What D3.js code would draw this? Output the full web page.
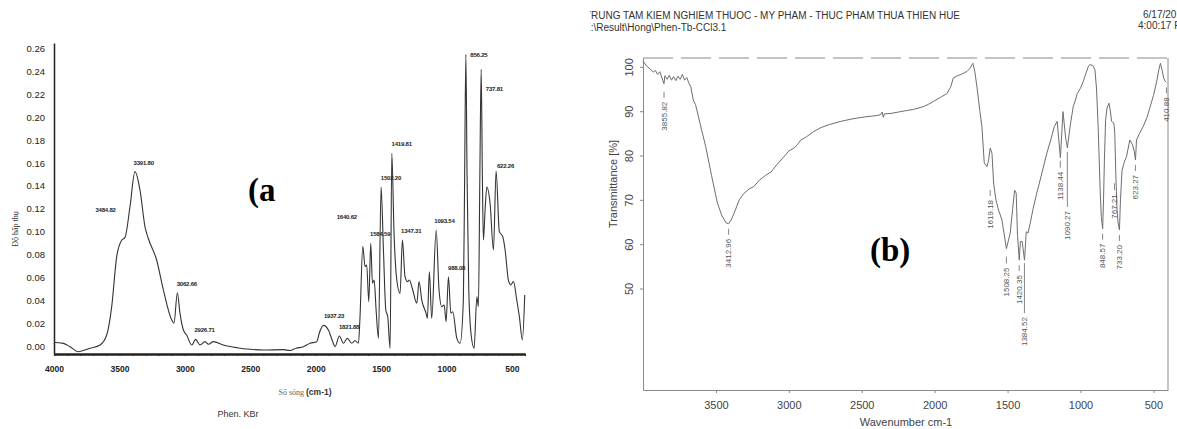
<!doctype html>
<html lang="vi">
<head>
	<meta charset="UTF-8">
	<title>IR spectra - Phen</title>
	<style>
		body {
			margin: 0;
			background: #fff;
		}

		svg {
			display: block;
			font-family: "Liberation Sans", Arial, sans-serif;
		}

		.axis-a path,
		.axis-a line {
			stroke: #222;
		}

		.axis-a text {
			fill: #222;
			font-family: "Liberation Sans", Arial, sans-serif;
		}

		.axis-b path,
		.axis-b line {
			stroke: #8a8a8a;
		}

		.axis-b text {
			fill: #444;
			font-family: "Liberation Sans", Arial, sans-serif;
			font-size: 11px;
		}

		.peak-a {
			font-size: 6px;
			font-weight: bold;
			fill: #222;
			letter-spacing: -0.2px;
		}

		.peak-b {
			font-size: 8px;
			fill: #555;
		}
	</style>
</head>
<body>
	<script src="https://cdnjs.cloudflare.com/ajax/libs/d3/7.8.5/d3.min.js"></script>
	<script>
		var w = 1177,
			h = 429;

		// ---- panel (a): absorbance, Phen. KBr
		var aWave = [4000, 3992, 3929, 3878, 3814, 3725, 3648, 3597, 3559, 3521, 3482, 3457, 3419, 3381, 3343, 3304, 3279, 3215, 3164, 3100,
			3083, 3057, 3037, 3011, 2986, 2947, 2917, 2884, 2846, 2820, 2782, 2706, 2600, 2502, 2400, 2247, 2196, 2150, 2094, 2043,
			1992, 1970, 1941, 1903, 1870, 1852, 1819, 1788, 1758, 1724, 1699, 1673, 1661, 1640, 1622, 1610, 1594, 1579, 1566, 1553,
			1538, 1520, 1500, 1482, 1464, 1449, 1431, 1418, 1401, 1380, 1355, 1337, 1317, 1299, 1284, 1258, 1227, 1210, 1189, 1156,
			1146, 1131, 1113, 1079, 1057, 1036, 1018, 1003, 985, 967, 952, 921, 896, 871, 862, 852, 843, 830, 812, 789,
			768, 756, 745, 735, 726, 718, 705, 692, 667, 641, 621, 596, 570, 552, 527, 509, 488, 463, 443, 420, 402];
		var aAbs = [0.002, 0.003, 0.0023, -0.0006, -0.005, -0.002, 0.0009, 0.0096, 0.0344, 0.078, 0.0927, 0.095, 0.122, 0.1525, 0.1365, 0.104, 0.094, 0.075, 0.049, 0.0227,
			0.0199, 0.0466, 0.0286, 0.014, 0.0096, 0.0009, 0.0058, 0.0009, 0.0038, 0.0015, 0.0038, 0.0009, -0.0015, -0.0029, -0.0035, -0.0032, -0.004, -0.002, -0.0006, 0.0024,
			0.0038, 0.012, 0.018, 0.014, 0.004, -0.0006, 0.0087, 0.0024, 0.0067, 0.0024, 0.0046, 0.0024, 0.0256, 0.0869, 0.0694, 0.0709, 0.0388, 0.0899, 0.0549, 0.0577,
			0.0315, 0.0067, 0.139, 0.084, 0.0315, 0.0256, -0.002, 0.1686, 0.0986, 0.0577, 0.046, 0.0927, 0.0606, 0.0563, 0.0577, 0.049, 0.0374, 0.0563, 0.0402, 0.0286,
			0.0242, 0.065, 0.0242, 0.1015, 0.049, 0.0344, 0.0359, 0.0213, 0.0606, 0.0286, 0.03, 0.0067, 0.0024, 0.0402, 0.14, 0.255, 0.15, 0.05, 0.01, -0.002,
			0.0431, 0.0344, 0.15, 0.242, 0.15, 0.0927, 0.119, 0.139, 0.1248, 0.084, 0.153, 0.1, 0.0956, 0.084, 0.0577, 0.0534, 0.0563, 0.0402, 0.0256, 0.0052, 0.0446];
		var aYTicks = [0, 0.02, 0.04, 0.06, 0.08, 0.10, 0.12, 0.14, 0.16, 0.18, 0.20, 0.22, 0.24, 0.26];
		var aXTicks = [4000, 3500, 3000, 2500, 2000, 1500, 1000, 500];
		var aPeakLabels = ['3484.82', '3391.80', '3062.66', '2926.71', '1937.23', '1821.88', '1640.62', '1584.59',
			'1502.20', '1419.81', '1347.31', '1093.54', '988.08', '856.25', '737.81', '622.26'];

		// ---- panel (b): transmittance, Phen-Tb-CCl3
		var bWave = [4000, 3975, 3950, 3930, 3915, 3900, 3885, 3870, 3856, 3850, 3835, 3820, 3805, 3790, 3775, 3760, 3745, 3730, 3715, 3700,
			3685, 3672, 3655, 3640, 3626, 3600, 3570, 3530, 3490, 3460, 3430, 3413, 3395, 3375, 3340, 3307, 3270, 3240, 3200, 3160,
			3122, 3080, 3040, 3000, 2960, 2940, 2918, 2880, 2830, 2780, 2720, 2644, 2560, 2480, 2400, 2371, 2360, 2352, 2345, 2300,
			2200, 2145, 2080, 2040, 2009, 1960, 1915, 1890, 1872, 1850, 1820, 1800, 1778, 1760, 1744, 1738, 1725, 1710, 1690, 1676,
			1660, 1641, 1630, 1619, 1607, 1596, 1580, 1562, 1539, 1508, 1482, 1465, 1452, 1441, 1432, 1420, 1412, 1400, 1384, 1372,
			1360, 1345, 1325, 1300, 1265, 1231, 1200, 1180, 1160, 1138, 1120, 1102, 1090, 1070, 1050, 1035, 1022, 1000, 981, 960,
			945, 935, 915, 901, 890, 879, 865, 857, 848, 842, 836, 828, 818, 805, 795, 787, 771, 765, 758, 750,
			743, 733, 726, 715, 700, 684, 662, 643, 632, 623, 616, 595, 571, 545, 525, 500, 480, 462, 452, 440,
			430, 420, 411];
		var bTrans = [101.3, 100.2, 99.5, 98.8, 99.2, 98.3, 98.9, 97.5, 96.2, 98, 97.2, 98.1, 97, 97.8, 96.9, 97.9, 97.2, 98.3, 97, 97.6,
			96.3, 95.5, 92.5, 91.5, 89.6, 86, 82, 75.5, 69.3, 66.5, 64.8, 64.6, 65.5, 67, 70, 71.5, 72.5, 73, 74.5, 75.5,
			76.3, 78, 79.5, 81, 81.8, 82.5, 83.5, 84.2, 85.4, 86.3, 87, 87.7, 88.3, 88.7, 89, 89.2, 89.8, 88.6, 89.4, 89.5,
			90.1, 90.4, 91, 91.6, 92.2, 93.1, 94, 95.5, 97.5, 97.9, 98.3, 98.6, 99, 99.6, 100.5, 100.8, 99, 95.5, 90, 86.5,
			78.3, 77.5, 79, 81.7, 80.5, 73.8, 70, 67.7, 65.5, 59, 62.5, 68, 72.2, 71.5, 62, 56.4, 60.6, 60.6, 56.4, 62.8,
			62.5, 64.7, 68, 71.5, 76, 80.5, 84, 86.5, 87.7, 79.5, 89.9, 84, 81.7, 86.9, 91, 92.5, 94, 95.2, 96.7, 98.8,
			100.2, 100.5, 100.3, 99.3, 95, 86.5, 72, 66, 63.5, 70, 79, 88, 90.7, 91.8, 90, 87.7, 87.3, 85, 76, 68,
			65, 63.2, 70, 76.7, 78.5, 79.8, 83.5, 82.4, 81, 79, 83.5, 85, 86.5, 88.5, 90.7, 93.5, 96.3, 99.5, 100.8, 99.2,
			97.5, 96.8, 96.5];
		var bYTicks = [50, 60, 70, 80, 90, 100];
		var bXTicks = [3500, 3000, 2500, 2000, 1500, 1000, 500];
		var bPeakLabels = ['3855.82', '3412.96', '1619.18', '1508.25', '1420.35', '1384.52', '1138.44', '1090.27',
			'848.57', '767.21', '733.20', '623.27', '410.88'];

		// label placement tweaks (layout only)
		var aLabelNudge = {
			'3484.82': [-26, -21],
			'1640.62': [-26, -21],
			'856.25': [5, 10],
			'737.81': [5, 29],
			'622.26': [1, 4]
		};
		var bLeader = {
			'3855.82': [8, 6],
			'1619.18': [30, 6],
			'1508.25': [8, 7],
			'1384.52': [3, 50],
			'1138.44': [3, 7],
			'1090.27': [4, 55],
			'767.21': [10, 7]
		};

		var svg = d3.select('body')
			.append('svg')
			.attr('width', w)
			.attr('height', h);

		var xA = d3.scaleLinear().domain([4000, 400]).range([54, 525]),
			yA = d3.scaleLinear().domain([-0.007, 0.265]).range([354, 43]),
			xB = d3.scaleLinear().domain([4000, 400]).range([643, 1168]),
			yB = d3.scaleLinear().domain([27.1, 102]).range([390, 58]);


		/**
		* extreme value of a series close to a wavenumber
		* @returns {number}
		*/
		var valueNear = function(wn, waves, vals, useMax, win) {
			var best = null;
			waves.forEach(function(d, i) {
				if (Math.abs(d - wn) <= win) {
					if (best === null || (useMax ? vals[i] > best : vals[i] < best)) {
						best = vals[i];
					}
				}
			});
			return best;
		};


		/**
		* panel (a)
		* @returns {undefined}
		*/
		var drawPanelA = function() {
			var g = svg.append('g').attr('class', 'axis-a');

			// minor ticks on the x axis
			g.append('g')
				.attr('transform', 'translate(0,354)')
				.call(d3.axisBottom(xA).tickValues(d3.range(4000, 399, -100)).tickSize(2).tickSizeOuter(0).tickFormat(''))
				.select('.domain').attr('stroke-width', 2);

			g.append('g')
				.attr('transform', 'translate(0,354)')
				.call(d3.axisBottom(xA).tickValues(aXTicks).tickSize(0).tickPadding(12).tickFormat(d3.format('d')))
				.call(function(sel) {
					sel.select('.domain').attr('stroke-width', 2);
					sel.selectAll('text').style('font-size', '8.5px').style('font-weight', 'bold');
				});

			g.append('g')
				.attr('transform', 'translate(54,0)')
				.call(d3.axisLeft(yA).tickValues(aYTicks).tickSize(0).tickPadding(9).tickFormat(d3.format('.2f')))
				.call(function(sel) {
					sel.select('.domain').attr('stroke-width', 1.5);
					sel.selectAll('text').style('font-size', '9.5px');
				});

			var line = d3.line()
				.x(function(d) { return xA(d[0]); })
				.y(function(d) { return yA(d[1]); })
				.curve(d3.curveMonotoneX);

			svg.append('path')
				.datum(d3.zip(aWave, aAbs))
				.attr('d', line)
				.attr('fill', 'none')
				.attr('stroke', '#333')
				.attr('stroke-width', 1.1);

			svg.selectAll('.peak-a')
				.data(aPeakLabels)
				.enter()
				.append('text')
				.attr('class', 'peak-a')
				.attr('x', function(d) {
					var n = aLabelNudge[d] || [0, 0];
					return xA(+d) + n[0];
				})
				.attr('y', function(d) {
					var n = aLabelNudge[d] || [0, 0];
					return yA(valueNear(+d, aWave, aAbs, true, 20)) - 7 + n[1];
				})
				.text(function(d) { return d; });

			svg.append('text')
				.attr('transform', 'translate(18,229) rotate(-90)')
				.attr('text-anchor', 'middle')
				.style('font-family', '"Liberation Serif", serif')
				.style('font-size', '8px')
				.style('fill', '#333')
				.text('Độ hấp thụ');

			var t = svg.append('text')
				.attr('x', 305)
				.attr('y', 395)
				.attr('text-anchor', 'middle')
				.style('fill', '#333');
			t.append('tspan')
				.style('font-family', '"Liberation Serif", serif')
				.style('font-size', '8px')
				.style('fill', '#666')
				.text('Số sóng ');
			t.append('tspan')
				.style('font-size', '8.5px')
				.style('font-weight', 'bold')
				.text('(cm-1)');

			svg.append('text')
				.attr('x', 238)
				.attr('y', 417)
				.attr('text-anchor', 'middle')
				.style('font-size', '9px')
				.style('fill', '#333')
				.text('Phen. KBr');

			svg.append('text')
				.attr('x', 248)
				.attr('y', 201)
				.style('font-family', '"Liberation Serif", serif')
				.style('font-weight', 'bold')
				.style('font-size', '33px')
				.text('(a');
		};


		/**
		* panel (b)
		* @returns {undefined}
		*/
		var drawPanelB = function() {
			var g = svg.append('g').attr('class', 'axis-b');

			// frame
			g.append('line')
				.attr('x1', 643).attr('x2', 1168).attr('y1', 58).attr('y2', 58)
				.attr('stroke', '#e2e2e2').attr('stroke-dasharray', '30,8');
			g.append('line')
				.attr('x1', 1168).attr('x2', 1168).attr('y1', 58).attr('y2', 390)
				.attr('stroke', '#c8c8c8');

			g.append('g')
				.attr('transform', 'translate(0,390)')
				.call(d3.axisBottom(xB).tickValues(bXTicks).tickSize(3).tickSizeOuter(0).tickPadding(8).tickFormat(d3.format('d')));

			g.append('g')
				.attr('transform', 'translate(643,0)')
				.call(d3.axisLeft(yB).tickValues(bYTicks).tickSize(3).tickSizeOuter(0).tickFormat(d3.format('d')))
				.selectAll('text')
				.attr('x', 0)
				.attr('dy', 0)
				.attr('transform', 'translate(-10,0) rotate(-90)')
				.style('text-anchor', 'middle');

			var line = d3.line()
				.x(function(d) { return xB(d[0]); })
				.y(function(d) { return yB(d[1]); });

			svg.append('path')
				.datum(d3.zip(bWave, bTrans))
				.attr('d', line)
				.attr('fill', 'none')
				.attr('stroke', '#6e6e6e')
				.attr('stroke-width', 1);

			var peaks = svg.selectAll('.peak-b')
				.data(bPeakLabels)
				.enter()
				.append('g')
				.attr('class', 'peak-b')
				.attr('transform', function(d) {
					var yMin = yB(valueNear(+d, bWave, bTrans, false, 12));
					return 'translate(' + xB(+d) + ',' + yMin + ')';
				});

			peaks.append('line')
				.attr('x1', 0).attr('x2', 0)
				.attr('y1', function(d) { return (bLeader[d] || [5, 6])[0]; })
				.attr('y2', function(d) {
					var l = bLeader[d] || [5, 6];
					return l[0] + l[1];
				})
				.attr('stroke', '#666')
				.attr('stroke-width', 0.8);

			peaks.append('text')
				.attr('transform', function(d) {
					var l = bLeader[d] || [5, 6];
					return 'translate(0,' + (l[0] + l[1] + 4) + ') rotate(-90)';
				})
				.attr('dy', '0.35em')
				.attr('text-anchor', 'end')
				.text(function(d) { return d; });

			svg.append('text')
				.attr('transform', 'translate(617,184) rotate(-90)')
				.attr('text-anchor', 'middle')
				.style('font-size', '11px')
				.style('fill', '#444')
				.text('Transmittance [%]');

			svg.append('text')
				.attr('x', 906)
				.attr('y', 426)
				.attr('text-anchor', 'middle')
				.style('font-size', '11px')
				.style('fill', '#444')
				.text('Wavenumber cm-1');

			svg.append('text')
				.attr('x', 870)
				.attr('y', 261)
				.style('font-family', '"Liberation Serif", serif')
				.style('font-weight', 'bold')
				.style('font-size', '33px')
				.text('(b)');
		};


		/**
		* header of the instrument print-out
		* @returns {undefined}
		*/
		var drawHeader = function() {
			svg.append('clipPath')
				.attr('id', 'clipB')
				.append('rect')
				.attr('x', 590).attr('y', 0).attr('width', 600).attr('height', 60);

			var g = svg.append('g')
				.attr('clip-path', 'url(#clipB)')
				.style('font-size', '10px')
				.style('fill', '#333');

			g.append('text')
				.attr('x', 585)
				.attr('y', 19)
				.attr('textLength', 375)
				.attr('lengthAdjust', 'spacingAndGlyphs')
				.text('TRUNG TAM KIEM NGHIEM THUOC - MY PHAM - THUC PHAM THUA THIEN HUE');

			g.append('text')
				.attr('x', 584)
				.attr('y', 31)
				.text('E:\\Result\\Hong\\Phen-Tb-CCl3.1');

			g.append('text')
				.attr('x', 1143)
				.attr('y', 18)
				.text('6/17/2019');

			g.append('text')
				.attr('x', 1138)
				.attr('y', 29)
				.text('4:00:17 PM');
		};


		drawPanelA();
		drawPanelB();
		drawHeader();

	</script>
</body>
</html>
